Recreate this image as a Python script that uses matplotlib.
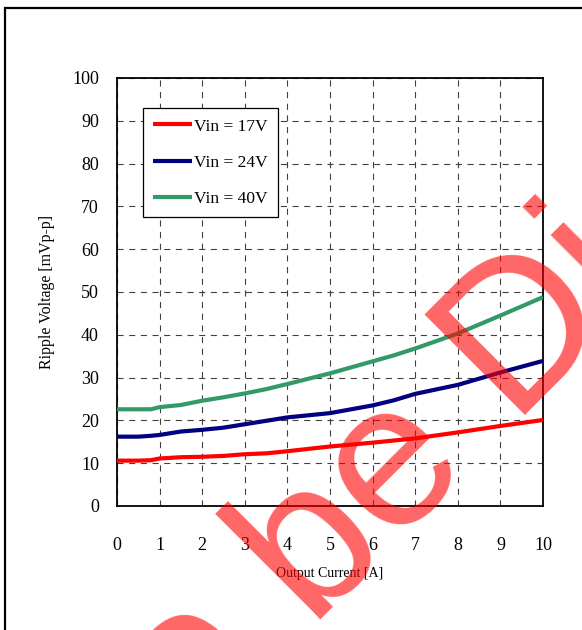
import matplotlib
matplotlib.use('Agg')
import matplotlib.pyplot as plt
from matplotlib.patches import Rectangle

# ---- data ---- #
current = [0, 0.5, 0.8, 1, 1.5, 2, 2.5, 3, 3.5, 4, 5, 6, 6.5, 7, 8, 9, 10]
ripple_17v = [10.6, 10.6, 10.7, 11.1, 11.4, 11.5, 11.7, 12.1, 12.3, 12.8, 13.9, 14.8, 15.3, 15.8, 17.2, 18.7, 20.1]
ripple_24v = [16.2, 16.2, 16.4, 16.6, 17.4, 17.8, 18.3, 19.1, 19.9, 20.7, 21.7, 23.5, 24.7, 26.2, 28.3, 31.2, 33.9]
ripple_40v = [22.6, 22.6, 22.6, 23.1, 23.6, 24.6, 25.4, 26.3, 27.3, 28.5, 31.0, 33.8, 35.2, 36.8, 40.3, 44.5, 48.8]

series = [('Vin = 17V', ripple_17v, '#ff0000'),
          ('Vin = 24V', ripple_24v, '#000080'),
          ('Vin = 40V', ripple_40v, '#339966')]

x_ticks = list(range(0, 11))
y_ticks = list(range(0, 101, 10))

plt.rcParams['font.family'] = 'Liberation Serif'

fig = plt.figure(figsize=(5.82, 6.30), dpi=100)
W, H = 582., 630.

# outer frame (runs off the right/bottom edge in the reference)
fig.patches.append(Rectangle((5 / W, -0.1), 1.2, 1 - 8 / H + 0.1, transform=fig.transFigure,
                             fill=False, edgecolor='black', lw=1.6, zorder=0))

ax = fig.add_axes([117 / W, 1 - 506 / H, 426 / W, 428 / H])
for label, values, color in series:
    ax.plot(current, values, color=color, lw=3.0, label=label, solid_capstyle='butt', zorder=3)

ax.set_xlim(0, 10)
ax.set_ylim(0, 100)
ax.set_xticks(x_ticks)
ax.set_yticks(y_ticks)
ax.tick_params(axis='both', length=0, labelsize=13)
ax.tick_params(axis='x', pad=22)
ax.tick_params(axis='y', pad=13)
ax.grid(True, color='#404040', lw=0.8, linestyle=(0, (5.5, 5.0)), zorder=1)
for sp in ax.spines.values():
    sp.set_linewidth(1.3)
    sp.set_color('black')

ax.set_xlabel('Output Current [A]', fontsize=10)
ax.xaxis.set_label_coords(0.5, -0.142)
ax.set_ylabel('Ripple Voltage [mVp-p]', fontsize=11.5)
ax.yaxis.set_label_coords(-0.146, 0.5)

leg = ax.legend(loc='upper left', bbox_to_anchor=(0.061, 0.930), borderaxespad=0,
                fontsize=12.5, handlelength=2.2, handletextpad=0.12, labelspacing=1.15,
                borderpad=0.6, fancybox=False, framealpha=1, edgecolor='black')
leg.get_frame().set_linewidth(0.9)

# red watermark across the page
fig.text(117 / W, 1 - 822 / H, 'To be Discontinued', family='Liberation Sans', fontsize=148,
         color='#ff0000', alpha=0.6, rotation=45, rotation_mode='anchor',
         ha='left', va='baseline', zorder=10)

fig.savefig('out.png', dpi=100)
